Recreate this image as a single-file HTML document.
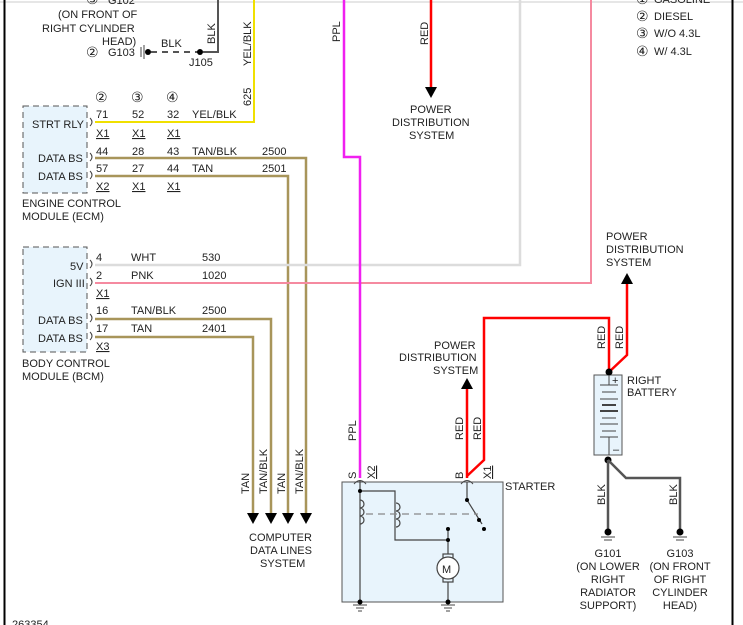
<!DOCTYPE html>
<html><head><style>
html,body{margin:0;padding:0;background:#fff}
svg{display:block}
text{font-family:"Liberation Sans",Arial,sans-serif;font-size:11px;fill:#222}
.c{font-family:"DejaVu Sans",sans-serif;font-size:14px}
</style></head><body>
<svg width="743" height="625" viewBox="0 0 743 625" xmlns="http://www.w3.org/2000/svg">
<line x1="0" y1="2" x2="743" y2="2" stroke="#ccc" stroke-width="1"/>
<line x1="4.5" y1="0" x2="4.5" y2="625" stroke="#000" stroke-width="2"/>
<line x1="732.5" y1="0" x2="732.5" y2="625" stroke="#000" stroke-width="2"/>

<text x="86" y="4" class="c">③</text><text x="108" y="4">G102</text>
<text x="58" y="18">(ON FRONT OF</text>
<text x="42" y="32">RIGHT CYLINDER</text>
<text x="102" y="45">HEAD)</text>
<text x="86" y="57" class="c">②</text><text x="108" y="56">G103</text>
<line x1="141" y1="47" x2="141" y2="57" stroke="#444" stroke-width="1"/>
<line x1="144" y1="45" x2="144" y2="59" stroke="#444" stroke-width="1"/>
<circle cx="148" cy="52" r="3" fill="#000"/>
<line x1="151" y1="52" x2="200" y2="52" stroke="#555" stroke-width="2" stroke-dasharray="6,5"/>
<circle cx="200" cy="52" r="3" fill="#000"/>
<text x="161" y="47">BLK</text>
<text x="189" y="66">J105</text>
<polyline points="203,52 218,52 218,0" fill="none" stroke="#555" stroke-width="2"/>
<text transform="translate(215,44) rotate(-90)">BLK</text>

<polyline points="95,122 254,122 254,0" fill="none" stroke="#f0e000" stroke-width="2"/>
<text transform="translate(251,66) rotate(-90)">YEL/BLK</text>
<text transform="translate(251,106) rotate(-90)">625</text>

<rect x="23" y="106" width="64" height="87" fill="#e8f4fc" stroke="#555" stroke-dasharray="6,4"/>
<text x="32" y="128">STRT RLY</text>
<text x="38" y="162">DATA BS</text>
<text x="38" y="180">DATA BS</text>
<text x="22" y="207">ENGINE CONTROL</text>
<text x="22" y="220">MODULE (ECM)</text>
<text x="95" y="102" class="c">②</text><text x="131" y="102" class="c">③</text><text x="166" y="102" class="c">④</text>
<text x="96" y="118">71</text><text x="132" y="118">52</text><text x="167" y="118">32</text><text x="192" y="118">YEL/BLK</text>
<text x="96" y="137" text-decoration="underline">X1</text><text x="132" y="137" text-decoration="underline">X1</text><text x="167" y="137" text-decoration="underline">X1</text>
<text x="96" y="155">44</text><text x="132" y="155">28</text><text x="167" y="155">43</text><text x="192" y="155">TAN/BLK</text><text x="262" y="155">2500</text>
<text x="96" y="172">57</text><text x="132" y="172">27</text><text x="167" y="172">44</text><text x="192" y="172">TAN</text><text x="262" y="172">2501</text>
<text x="96" y="190" text-decoration="underline">X2</text><text x="132" y="190" text-decoration="underline">X1</text><text x="167" y="190" text-decoration="underline">X1</text>
<g fill="none" stroke="#444" stroke-width="1">
<path d="M90,118 q4,4 0,8"/><path d="M90,153 q4,4 0,8"/><path d="M90,171 q4,4 0,8"/>
<path d="M90,260 q4,4 0,8"/><path d="M90,278 q4,4 0,8"/><path d="M90,314 q4,4 0,8"/><path d="M90,332 q4,4 0,8"/>
</g>

<g fill="none" stroke="#a8955a" stroke-width="2.5">
<polyline points="95,158 306,158 306,515"/>
<polyline points="95,176 288,176 288,515"/>
<polyline points="95,319 271,319 271,515"/>
<polyline points="95,337 253,337 253,515"/>
</g>
<g fill="#000">
<polygon points="247,513 259,513 253,524"/><polygon points="265,513 277,513 271,524"/>
<polygon points="282,513 294,513 288,524"/><polygon points="300,513 312,513 306,524"/>
</g>
<text transform="translate(249,494) rotate(-90)">TAN</text>
<text transform="translate(267,494) rotate(-90)">TAN/BLK</text>
<text transform="translate(285,494) rotate(-90)">TAN</text>
<text transform="translate(303,494) rotate(-90)">TAN/BLK</text>
<text x="249" y="541">COMPUTER</text>
<text x="250" y="554">DATA LINES</text>
<text x="260" y="567">SYSTEM</text>

<rect x="23" y="247" width="64" height="105" fill="#e8f4fc" stroke="#555" stroke-dasharray="6,4"/>
<text x="70" y="270">5V</text>
<text x="53" y="287">IGN III</text>
<text x="38" y="324">DATA BS</text>
<text x="38" y="342">DATA BS</text>
<text x="22" y="367">BODY CONTROL</text>
<text x="22" y="380">MODULE (BCM)</text>
<text x="96" y="261">4</text><text x="131" y="261">WHT</text><text x="202" y="261">530</text>
<text x="96" y="279">2</text><text x="131" y="279">PNK</text><text x="202" y="279">1020</text>
<text x="96" y="297" text-decoration="underline">X1</text>
<text x="96" y="314">16</text><text x="131" y="314">TAN/BLK</text><text x="202" y="314">2500</text>
<text x="96" y="332">17</text><text x="131" y="332">TAN</text><text x="202" y="332">2401</text>
<text x="96" y="350" text-decoration="underline">X3</text>

<polyline points="95,265 520,265 520,0" fill="none" stroke="#dcdcdc" stroke-width="2.5"/>
<polyline points="95,283 591,283 591,0" fill="none" stroke="#f58aa0" stroke-width="2"/>

<polyline points="344,0 344,157 360,157 360,478" fill="none" stroke="#f020f0" stroke-width="2.5"/>
<text transform="translate(340,42) rotate(-90)">PPL</text>
<text transform="translate(356,441) rotate(-90)">PPL</text>

<line x1="431" y1="0" x2="431" y2="88" stroke="#f00" stroke-width="2.5"/>
<polygon points="425,87 437,87 431,98" fill="#000"/>
<text transform="translate(428,45) rotate(-90)">RED</text>
<text x="410" y="113">POWER</text>
<text x="392" y="126">DISTRIBUTION</text>
<text x="409" y="139">SYSTEM</text>

<text x="636" y="4" class="c">①</text><text x="654" y="3">GASOLINE</text>
<text x="636" y="21" class="c">②</text><text x="654" y="20">DIESEL</text>
<text x="636" y="38" class="c">③</text><text x="654" y="37">W/O 4.3L</text>
<text x="636" y="56" class="c">④</text><text x="654" y="55">W/ 4.3L</text>

<line x1="467" y1="388" x2="467" y2="478" stroke="#f00" stroke-width="2.5"/>
<polygon points="461,389 473,389 467,378" fill="#000"/>
<polyline points="467,476 484,460 484,318 609,318 609,372" fill="none" stroke="#f00" stroke-width="2.5"/>
<polyline points="609,372 627,355 627,283" fill="none" stroke="#f00" stroke-width="2.5"/>
<polygon points="621,284 633,284 627,273" fill="#000"/>
<text transform="translate(463,440) rotate(-90)">RED</text>
<text transform="translate(481,440) rotate(-90)">RED</text>
<text transform="translate(605,349) rotate(-90)">RED</text>
<text transform="translate(623,349) rotate(-90)">RED</text>
<text x="434" y="349">POWER</text>
<text x="399" y="361">DISTRIBUTION</text>
<text x="433" y="374">SYSTEM</text>
<text x="606" y="240">POWER</text>
<text x="606" y="253">DISTRIBUTION</text>
<text x="606" y="266">SYSTEM</text>

<rect x="342" y="482" width="161" height="120" fill="#e8f4fc" stroke="#555" stroke-width="1"/>
<text x="505" y="490">STARTER</text>
<text transform="translate(356,479) rotate(-90)" font-size="10">S</text>
<text transform="translate(375,479) rotate(-90)" font-size="10" text-decoration="underline">X2</text>
<text transform="translate(463,479) rotate(-90)" font-size="10">B</text>
<text transform="translate(491,479) rotate(-90)" font-size="10" text-decoration="underline">X1</text>
<path d="M354,484 q6,-7 12,0 M461,484 q6,-7 12,0" fill="none" stroke="#444"/>
<g fill="none" stroke="#444" stroke-width="1.2">
<polyline points="360,480 360,602"/>
<polyline points="360,491 395,491 395,540 448,540"/>
<line x1="448" y1="528" x2="448" y2="554"/>
<rect x="443" y="554" width="10" height="4"/><rect x="443" y="578" width="10" height="4"/>
<circle cx="448" cy="568" r="11" fill="#fff"/>
<line x1="448" y1="582" x2="448" y2="602"/>
<polyline points="467,482 467,500 482,524"/>
<line x1="366" y1="514" x2="478" y2="514" stroke-dasharray="7,5" stroke="#888"/>
<path d="M360,500 a4,4 0 1 1 0,8 a4,4 0 1 1 0,8 a4,4 0 1 1 0,8 M396,503 a4,4 0 1 1 0,8 a4,4 0 1 1 0,8 a4,4 0 1 1 0,8"/>
</g>
<text x="442" y="573" font-size="12">M</text>
<g fill="#000"><circle cx="360" cy="491" r="2"/><circle cx="448" cy="529" r="2"/><circle cx="448" cy="540" r="2"/><circle cx="467" cy="500" r="2"/><circle cx="484" cy="529" r="2"/><circle cx="479" cy="520" r="2"/><circle cx="360" cy="602" r="2.5"/><circle cx="448" cy="602" r="2.5"/></g>
<g stroke="#444"><line x1="353" y1="605" x2="367" y2="605"/><line x1="356" y1="608" x2="364" y2="608"/><line x1="358" y1="611" x2="362" y2="611"/>
<line x1="441" y1="605" x2="455" y2="605"/><line x1="444" y1="608" x2="452" y2="608"/><line x1="446" y1="611" x2="450" y2="611"/></g>

<rect x="594" y="375" width="28" height="80" fill="#e8f4fc" stroke="#555"/>
<circle cx="609" cy="372" r="3.5" fill="#000"/>
<text x="612" y="384" font-size="10">+</text>
<text x="613" y="453" font-size="10">–</text>
<g stroke="#444"><line x1="609" y1="375" x2="609" y2="385"/>
<line x1="600" y1="385" x2="618" y2="385"/><line x1="602" y1="392" x2="616" y2="392"/><line x1="600" y1="399" x2="618" y2="399"/><line x1="602" y1="405" x2="616" y2="405" stroke-width="2"/><line x1="600" y1="411" x2="618" y2="411" stroke-width="2"/><line x1="602" y1="418" x2="616" y2="418"/><line x1="600" y1="424" x2="618" y2="424"/><line x1="602" y1="431" x2="616" y2="431"/><line x1="600" y1="437" x2="618" y2="437"/><line x1="609" y1="437" x2="609" y2="455"/></g>
<text x="627" y="384">RIGHT</text>
<text x="627" y="396">BATTERY</text>
<circle cx="608" cy="460" r="3.5" fill="#000"/>
<polyline points="608,460 608,530" fill="none" stroke="#555" stroke-width="2.5"/>
<polyline points="608,460 626,478 680,478 680,530" fill="none" stroke="#555" stroke-width="2.5"/>
<text transform="translate(605,505) rotate(-90)">BLK</text>
<text transform="translate(677,505) rotate(-90)">BLK</text>
<circle cx="608" cy="532" r="3.5" fill="#000"/><circle cx="680" cy="532" r="3.5" fill="#000"/>
<g stroke="#444"><line x1="601" y1="537" x2="615" y2="537"/><line x1="604" y1="540" x2="612" y2="540"/><line x1="673" y1="537" x2="687" y2="537"/><line x1="676" y1="540" x2="684" y2="540"/></g>
<g text-anchor="middle">
<text x="608" y="557">G101</text><text x="608" y="570">(ON LOWER</text><text x="608" y="583">RIGHT</text><text x="608" y="596">RADIATOR</text><text x="608" y="609">SUPPORT)</text>
<text x="680" y="557">G103</text><text x="680" y="570">(ON FRONT</text><text x="680" y="583">OF RIGHT</text><text x="680" y="596">CYLINDER</text><text x="680" y="609">HEAD)</text>
</g>
<text x="12" y="628" font-size="10">263354</text>
</svg>
</body></html>
